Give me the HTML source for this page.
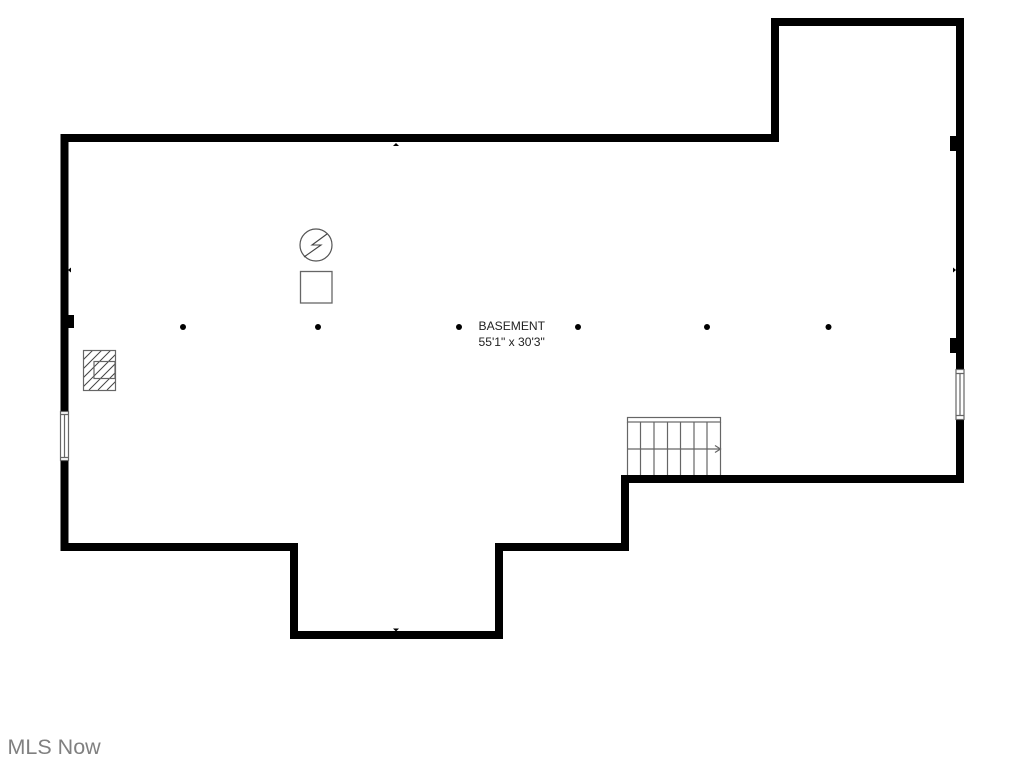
<!DOCTYPE html>
<html>
<head>
<meta charset="utf-8">
<style>
html,body{margin:0;padding:0;background:#fff;width:1024px;height:768px;overflow:hidden}
svg{display:block}
text{font-family:"Liberation Sans",sans-serif}
</style>
</head>
<body>
<svg width="1024" height="768" viewBox="0 0 1024 768" xmlns="http://www.w3.org/2000/svg">
<rect width="1024" height="768" fill="#fff"/>
<!-- walls -->
<path d="M64.500 138H775V22H960V479H625V547H499V635H294V547H64.500Z" fill="none" stroke="#000" stroke-width="8" stroke-linejoin="miter"/>
<!-- nibs -->
<rect x="67" y="315" width="7" height="13" fill="#000"/>
<rect x="950" y="136" width="7" height="15" fill="#000"/>
<rect x="950" y="338" width="7" height="15" fill="#000"/>
<!-- left window -->
<rect x="60" y="411" width="9" height="50" fill="#fff"/>
<g fill="none" stroke="#666" stroke-width="1.200">
<rect x="60.500" y="411.500" width="8" height="49"/>
<path d="M60.500 414.500H68.500M60.500 457.500H68.500M64.500 414.500V457.500"/>
</g>
<!-- right window -->
<rect x="955" y="369" width="10" height="51" fill="#fff"/>
<g fill="none" stroke="#666" stroke-width="1.200">
<rect x="956" y="369.500" width="8" height="50"/>
<path d="M956 373.500H964M956 415.500H964M960 373.500V415.500"/>
</g>
<!-- wall ticks -->
<path d="M396 143l-3 3h6z" fill="#000"/>
<path d="M393 628.500h6l-3 3z" fill="#000"/>
<path d="M68 270l3-2.500v5z" fill="#000"/>
<path d="M956 270l-3-2.500v5z" fill="#000"/>
<!-- furnace hatch -->
<clipPath id="h"><rect x="83.500" y="350.500" width="32" height="40"/></clipPath>
<g clip-path="url(#h)" stroke="#444" stroke-width="1" fill="none">
<path d="M84 350L44 390M93 350L53 390M102 350L62 390M111 350L71 390M120 350L80 390M129 350L89 390M138 350L98 390M147 350L107 390"/>
</g>
<rect x="83.500" y="350.500" width="32" height="40" fill="none" stroke="#666" stroke-width="1.200"/>
<rect x="94" y="361.500" width="21" height="17" fill="none" stroke="#666" stroke-width="1.200"/>
<!-- electric panel -->
<circle cx="316" cy="245" r="16" fill="none" stroke="#555" stroke-width="1.200"/>
<path d="M304 257L321 245H312L327 234" fill="none" stroke="#444" stroke-width="1.100"/>
<rect x="300.500" y="271.500" width="31.500" height="31.500" fill="none" stroke="#666" stroke-width="1.300"/>
<!-- posts -->
<g fill="#000">
<circle cx="183" cy="327" r="3"/>
<circle cx="318" cy="327" r="3"/>
<circle cx="459" cy="327" r="3"/>
<circle cx="578" cy="327" r="3"/>
<circle cx="707" cy="327" r="3"/>
<circle cx="828.500" cy="327" r="3"/>
</g>
<!-- stairs -->
<g fill="none" stroke="#666" stroke-width="1.200">
<rect x="627.500" y="417.500" width="93" height="4.500"/>
<path d="M627.500 422V475M640.500 422V475M654 422V475M667.500 422V475M680.500 422V475M694 422V475M707 422V475M720.500 422V475"/>
<path d="M627.500 449H720"/>
<path d="M715 445.500L720.500 449L715 452.500"/>
</g>
<!-- labels -->
<text x="478.500" y="330" font-size="12.100" fill="#222">BASEMENT</text>
<text x="478.500" y="346" font-size="12.100" fill="#222">55'1" x 30'3"</text>
<text x="7.500" y="754" font-size="21.500" fill="#808080">MLS Now</text>
</svg>
</body>
</html>
